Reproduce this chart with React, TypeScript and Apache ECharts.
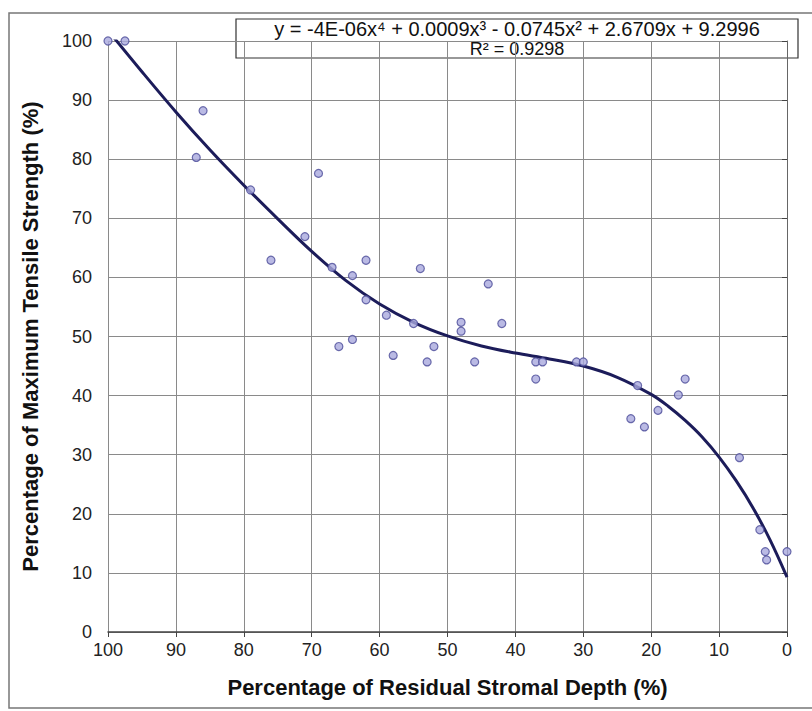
import React, { useEffect, useRef } from "react";
import * as echarts from "echarts";

// Scatter observations: [residual stromal depth %, max tensile strength %]
const depthValues = [100, 97.5, 87, 86, 79, 76, 71, 69, 67, 66, 64, 64, 62, 62, 59, 58, 55, 54, 53, 52, 48, 48, 46, 44, 42, 37, 37, 36, 31, 30, 23, 22, 21, 19, 16, 15, 7, 4, 3.2, 3, 0];
const strengthValues = [100, 100, 80.3, 88.2, 74.8, 62.9, 66.9, 77.6, 61.7, 48.3, 60.3, 49.5, 62.9, 56.2, 53.6, 46.8, 52.2, 61.5, 45.7, 48.3, 52.4, 50.9, 45.7, 58.9, 52.2, 45.7, 42.8, 45.7, 45.7, 45.7, 36.1, 41.7, 34.7, 37.5, 40.1, 42.8, 29.5, 17.3, 13.6, 12.2, 13.6];

// Trendline
const trendX = [100, 95, 90, 85, 80, 75, 70, 65, 60, 55, 50, 45, 40, 35, 30, 25, 20, 17.5, 15, 12.5, 10, 7.5, 5, 2.5, 0];
const trendY = [101.8, 94.8, 88.0, 81.6, 75.6, 69.9, 64.4, 59.5, 55.5, 52.4, 50.1, 48.4, 47.2, 46.2, 45.0, 43.1, 40.2, 38.2, 35.8, 33.0, 29.6, 25.6, 21.0, 15.6, 9.3];

const xTicks = [0, 10, 20, 30, 40, 50, 60, 70, 80, 90, 100];
const equationText = "y = -4E-06x\u2074 + 0.0009x\u00B3 - 0.0745x\u00B2 + 2.6709x + 9.2996";
const r2Text = "R\u00B2 = 0.9298";

const FONT = "'Liberation Sans', Arial, sans-serif";

export default function App() {
  const ref = useRef<HTMLDivElement>(null);
  useEffect(() => {
    if (!ref.current) return;
    const chart = echarts.init(ref.current, undefined, { renderer: "svg" });
    const scatterData = depthValues.map((d, i) => [d, strengthValues[i]]);
    const trendData = trendX.map((d, i) => [d, trendY[i]]);
    chart.setOption({
      animation: false,
      backgroundColor: "#ffffff",
      grid: { left: 108, right: 25, top: 41, bottom: 79 },
      xAxis: {
        type: "value",
        inverse: true,
        min: xTicks[0],
        max: xTicks[xTicks.length - 1],
        interval: 10,
        name: "Percentage of Residual Stromal Depth (%)",
        nameLocation: "middle",
        nameGap: 44,
        nameTextStyle: { fontFamily: FONT, fontSize: 22, fontWeight: "bold", color: "#111" },
        axisLine: { show: true, onZero: false, lineStyle: { color: "#444", width: 1.5 } },
        axisTick: { show: true, length: 5, lineStyle: { color: "#444" } },
        axisLabel: { fontFamily: FONT, fontSize: 18, color: "#222", margin: 9 },
        splitLine: { show: true, lineStyle: { color: "#8a8a8a", width: 1 } },
      },
      yAxis: {
        type: "value",
        min: 0,
        max: 100,
        interval: 10,
        name: "Percentage of Maximum Tensile Strength (%)",
        nameLocation: "middle",
        nameGap: 67,
        nameTextStyle: { fontFamily: FONT, fontSize: 22, fontWeight: "bold", color: "#111" },
        axisLine: { show: true, lineStyle: { color: "#666", width: 1 } },
        axisTick: { show: true, length: 5, lineStyle: { color: "#444" } },
        axisLabel: { fontFamily: FONT, fontSize: 18, color: "#222", margin: 16 },
        splitLine: { show: true, lineStyle: { color: "#8a8a8a", width: 1 } },
      },
      series: [
        {
          type: "line",
          data: trendData,
          smooth: 0.35,
          showSymbol: false,
          symbol: "none",
          clip: true,
          lineStyle: { color: "#1c1c5a", width: 3 },
          z: 3,
        },
        {
          type: "scatter",
          data: scatterData,
          symbol: "circle",
          symbolSize: 8,
          itemStyle: { color: "#a9a9dd", borderColor: "#4b4b99", borderWidth: 1.2 },
          z: 4,
        },
      ],
      graphic: [
        {
          type: "rect",
          shape: { x: 9, y: 13, width: 830, height: 695 },
          style: { fill: "none", stroke: "#777", lineWidth: 1.5 },
          silent: true,
          z: -1,
        },
        {
          type: "group",
          z: 10,
          children: [
            {
              type: "rect",
              shape: { x: 236, y: 19, width: 562, height: 39 },
              style: { fill: "#ffffff", stroke: "#333", lineWidth: 1.2 },
            },
            {
              type: "text",
              x: 517,
              y: 29,
              style: { text: equationText, font: `20px ${FONT}`, fill: "#111", align: "center", verticalAlign: "middle" },
            },
            {
              type: "text",
              x: 517,
              y: 49,
              style: { text: r2Text, font: `18px ${FONT}`, fill: "#111", align: "center", verticalAlign: "middle" },
            },
          ],
        },
      ],
    });
    return () => chart.dispose();
  }, []);
  return <div ref={ref} style={{ width: 812, height: 711, position: "absolute", left: 0, top: 0 }} />;
}
